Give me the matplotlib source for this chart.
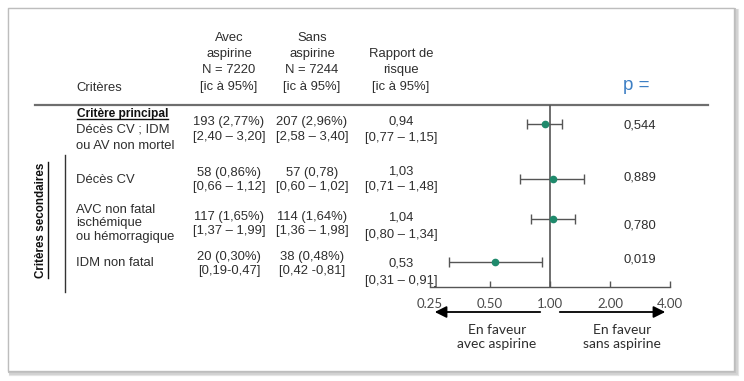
import matplotlib
matplotlib.use('Agg')
import matplotlib.pyplot as plt
from matplotlib.patches import Rectangle
from matplotlib.lines import Line2D

# ---------------- data ----------------
header_crit = "Critères"
header_avec = ["Avec", "aspirine", "N = 7220", "[ic à 95%]"]
header_sans = ["Sans", "aspirine", "N = 7244", "[ic à 95%]"]
header_rr = ["Rapport de", "risque", "[ic à 95%]"]
header_p = "p ="
primary_title = "Critère principal"
secondary_title = "Critères secondaires"
criteria = [["Décès CV ; IDM", "ou AV non mortel"],
            ["Décès CV"],
            ["AVC non fatal", "ischémique", "ou hémorragique"],
            ["IDM non fatal"]]
avec_n = ["193 (2,77%)", "58 (0,86%)", "117 (1,65%)", "20 (0,30%)"]
avec_ci = ["[2,40 – 3,20]", "[0,66 – 1,12]", "[1,37 – 1,99]", "[0,19-0,47]"]
sans_n = ["207 (2,96%)", "57 (0,78)", "114 (1,64%)", "38 (0,48%)"]
sans_ci = ["[2,58 – 3,40]", "[0,60 – 1,02]", "[1,36 – 1,98]", "[0,42 -0,81]"]
rr_txt = ["0,94", "1,03", "1,04", "0,53"]
rr_ci_txt = ["[0,77 – 1,15]", "[0,71 – 1,48]", "[0,80 – 1,34]", "[0,31 – 0,91]"]
rr = [0.94, 1.03, 1.04, 0.53]
rr_lo = [0.77, 0.71, 0.80, 0.31]
rr_hi = [1.15, 1.48, 1.34, 0.91]
p_values = ["0,544", "0,889", "0,780", "0,019"]
xticks = [0.25, 0.5, 1, 2, 4]
xtick_labels = ["0.25", "0.50", "1.00", "2.00", "4.00"]
favour_left = "En faveur\navec aspirine"
favour_right = "En faveur\nsans aspirine"

# ---------------- layout (pixels) ----------------
W, H = 744, 381
point_y = [124, 179, 219, 262]
label_y = [[130, 146], [180], [210, 223, 237], [263]]
n_y = [122, 173, 217, 257]
ci_y = [137, 187, 231, 271]
rr_y = [122, 171, 218, 264]
rrci_y = [138, 187, 235, 281]
p_y = [125, 178, 226, 260]
col_avec, col_sans, col_rr, col_p, col_lab = 229, 312, 401, 624, 76
head_y4 = [38, 54, 70, 87]
head_y3 = [54, 70, 87]

TXT = '#2e2e2e'
FAM = ['Liberation Sans', 'DejaVu Sans']
FS = 9.4

fig = plt.figure(figsize=(W / 100, H / 100), dpi=100)
bg = fig.add_axes([0, 0, 1, 1])
bg.set_xlim(0, W)
bg.set_ylim(H, 0)
bg.axis('off')

# frame with shadow
for off, col, lw in [(3, '#e4e4e4', 3), (2, '#d2d2d2', 2), (1, '#c4c4c4', 1.5)]:
    bg.add_patch(Rectangle((8 + off, 8 + off), 726, 363, fill=False, ec=col, lw=lw, zorder=1))
bg.add_patch(Rectangle((8, 8), 726, 363, fc='white', ec='#bdbdbd', lw=1.0, zorder=2))

def t(x, y, s, ha='center', **kw):
    kw.setdefault('color', TXT)
    kw.setdefault('fontsize', FS)
    kw.setdefault('family', FAM)
    return bg.text(x, y, s, ha=ha, va='center', zorder=5, **kw)

# headers
t(col_lab, 88, header_crit, ha='left')
for s, y in zip(header_avec, head_y4):
    t(col_avec, y, s)
for s, y in zip(header_sans, head_y4):
    t(col_sans, y, s)
for s, y in zip(header_rr, head_y3):
    t(col_rr, y, s)
t(636, 85, header_p, color='#3d7fc4', fontsize=13.5)

bg.add_line(Line2D([35, 708], [105, 105], color='#6e6e6e', lw=1.6, zorder=4))
bg.add_line(Line2D([65, 65], [155, 292], color='#333333', lw=1.0, zorder=4))

# rows
pt = t(col_lab + 1, 114, primary_title, ha='left', fontweight='bold', color='#111111', fontsize=8.6)
for i in range(4):
    for s, y in zip(criteria[i], label_y[i]):
        t(col_lab, y, s, ha='left')
    t(col_avec, n_y[i], avec_n[i])
    t(col_avec, ci_y[i], avec_ci[i])
    t(col_sans, n_y[i], sans_n[i])
    t(col_sans, ci_y[i], sans_ci[i])
    t(col_rr, rr_y[i], rr_txt[i])
    t(col_rr, rrci_y[i], rr_ci_txt[i])
    t(col_p, p_y[i], p_values[i], ha='left')

st = t(41, 220, secondary_title, rotation=90, fontweight='bold', color='#111111', fontsize=8.4)

# ---------------- forest plot ----------------
x0, x1, y0, y1 = 430, 670, 105, 287
ax = fig.add_axes([x0 / W, 1 - y1 / H, (x1 - x0) / W, (y1 - y0) / H])
ax.set_xscale('log', base=2)
ax.set_xlim(0.25, 4)
ax.set_ylim(y1, y0)
ax.patch.set_alpha(0)
for s in ['top', 'right', 'left']:
    ax.spines[s].set_visible(False)
ax.spines['bottom'].set_color('#555555')
ax.spines['bottom'].set_linewidth(1.0)
ax.set_yticks([])
ax.set_xticks(xticks)
ax.set_xticklabels(xtick_labels, family=['Lato', 'DejaVu Sans'], fontsize=9.5, color='#4a4a4a')
ax.minorticks_off()
ax.tick_params(axis='x', direction='in', length=4, width=1, color='#555555', pad=8)
ax.axvline(1, color='#555555', lw=1.2, zorder=2)
xerr = [[r - l for r, l in zip(rr, rr_lo)], [h - r for r, h in zip(rr, rr_hi)]]
ax.errorbar(rr, point_y, xerr=xerr, fmt='o', color='#1f8a6c', ms=4.5,
            ecolor='#555555', elinewidth=1.0, capsize=3.5, capthick=1.0, zorder=3, clip_on=False)

# arrows
arr = dict(arrowstyle='-|>,head_length=0.7,head_width=0.35', color='black', lw=1.3)
bg.annotate('', xy=(432, 312), xytext=(543, 312), arrowprops=arr, zorder=5)
bg.annotate('', xy=(668, 312), xytext=(557, 312), arrowprops=arr, zorder=5)
t(497, 337, favour_left, family=['Lato', 'DejaVu Sans'], fontsize=10, linespacing=1.15)
t(622, 337, favour_right, family=['Lato', 'DejaVu Sans'], fontsize=10, linespacing=1.15)

# underlines
fig.canvas.draw()
r = fig.canvas.get_renderer()
inv = bg.transData.inverted()
bb = pt.get_window_extent(r)
(a, b), (c, d) = inv.transform([[bb.x0, bb.y0], [bb.x1, bb.y1]])
bg.add_line(Line2D([a, c], [b - 1, b - 1], color='#111111', lw=1.0, zorder=5))
bb = st.get_window_extent(r)
(a, b), (c, d) = inv.transform([[bb.x0, bb.y0], [bb.x1, bb.y1]])
bg.add_line(Line2D([c + 1, c + 1], [b, d], color='#111111', lw=1.0, zorder=5))

fig.savefig('out.png', dpi=100)
